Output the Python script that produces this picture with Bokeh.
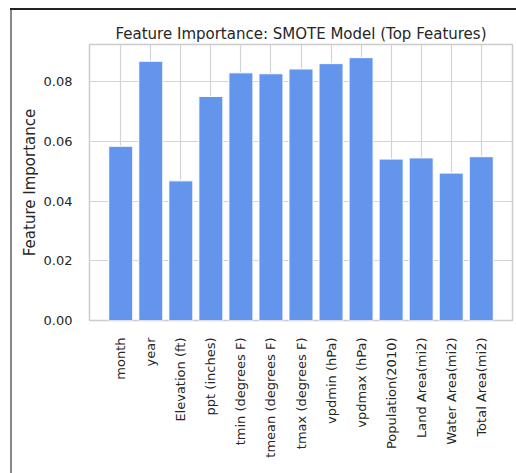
from bokeh.plotting import figure
from bokeh.models import Range1d, FixedTicker, NumeralTickFormatter, ColumnDataSource
from bokeh.embed import file_html
from bokeh.resources import INLINE
import math

features = ["month", "year", "Elevation (ft)", "ppt (inches)", "tmin (degrees F)",
            "tmean (degrees F)", "tmax (degrees F)", "vpdmin (hPa)", "vpdmax (hPa)",
            "Population(2010)", "Land Area(mi2)", "Water Area(mi2)", "Total Area(mi2)"]
importance = [0.0584, 0.0869, 0.0468, 0.0751, 0.0830, 0.0827, 0.0843,
              0.0861, 0.0881, 0.0541, 0.0545, 0.0494, 0.0549]
y_ticks = [0.0, 0.02, 0.04, 0.06, 0.08]

idx = list(range(len(features)))
src = ColumnDataSource(dict(x=idx, top=importance, name=features))

FONT = "DejaVu Sans"
TXT = "#262626"

page_bg = ("linear-gradient(#222222, #222222) 10px 8px / 506px 2px no-repeat, "
           "linear-gradient(#888888, #888888) 10px 8px / 2px 465px no-repeat, white")

p = figure(width=516, height=473, output_backend="svg", toolbar_location=None,
           x_range=Range1d(-1.04, len(features) - 1 + 1.04),
           y_range=Range1d(0, max(importance) * 1.05),
           min_border_left=89, min_border_right=4, min_border_top=44, min_border_bottom=153,
           title="Feature Importance: SMOTE Model (Top Features)",
           styles={"background": page_bg})

p.vbar(x="x", top="top", width=0.8, source=src, fill_color="#6495ED",
       line_color="white", line_width=1)

p.title.align = "center"
p.title.text_font = FONT
p.title.text_font_size = "15px"
p.title.text_font_style = "normal"
p.title.text_color = TXT
p.title.standoff = 4

p.outline_line_color = "#cccccc"
p.outline_line_width = 1.5
p.background_fill_color = "white"
p.border_fill_color = None

p.xaxis.ticker = FixedTicker(ticks=idx)
p.xaxis.major_label_overrides = {i: f for i, f in enumerate(features)}
p.xaxis.major_label_orientation = math.pi / 2
p.yaxis.ticker = FixedTicker(ticks=y_ticks)
p.yaxis.formatter = NumeralTickFormatter(format="0.00")
p.yaxis.axis_label = "Feature Importance"

for ax in (p.xaxis, p.yaxis):
    ax.axis_line_color = None
    ax.major_tick_line_color = None
    ax.minor_tick_line_color = None
    ax.major_label_text_font = FONT
    ax.major_label_text_font_size = "13px"
    ax.major_label_text_color = TXT
    ax.axis_label_text_font = FONT
    ax.axis_label_text_font_size = "15px"
    ax.axis_label_text_font_style = "normal"
    ax.axis_label_text_color = TXT

p.xaxis.major_label_standoff = 11
p.yaxis.major_label_standoff = 11
p.yaxis.axis_label_standoff = 2

p.xgrid.ticker = FixedTicker(ticks=idx)
p.ygrid.ticker = FixedTicker(ticks=y_ticks)
p.grid.grid_line_color = "#d4d4d4"
p.grid.grid_line_width = 1.2

open("out.html", "w").write(file_html(p, INLINE))
